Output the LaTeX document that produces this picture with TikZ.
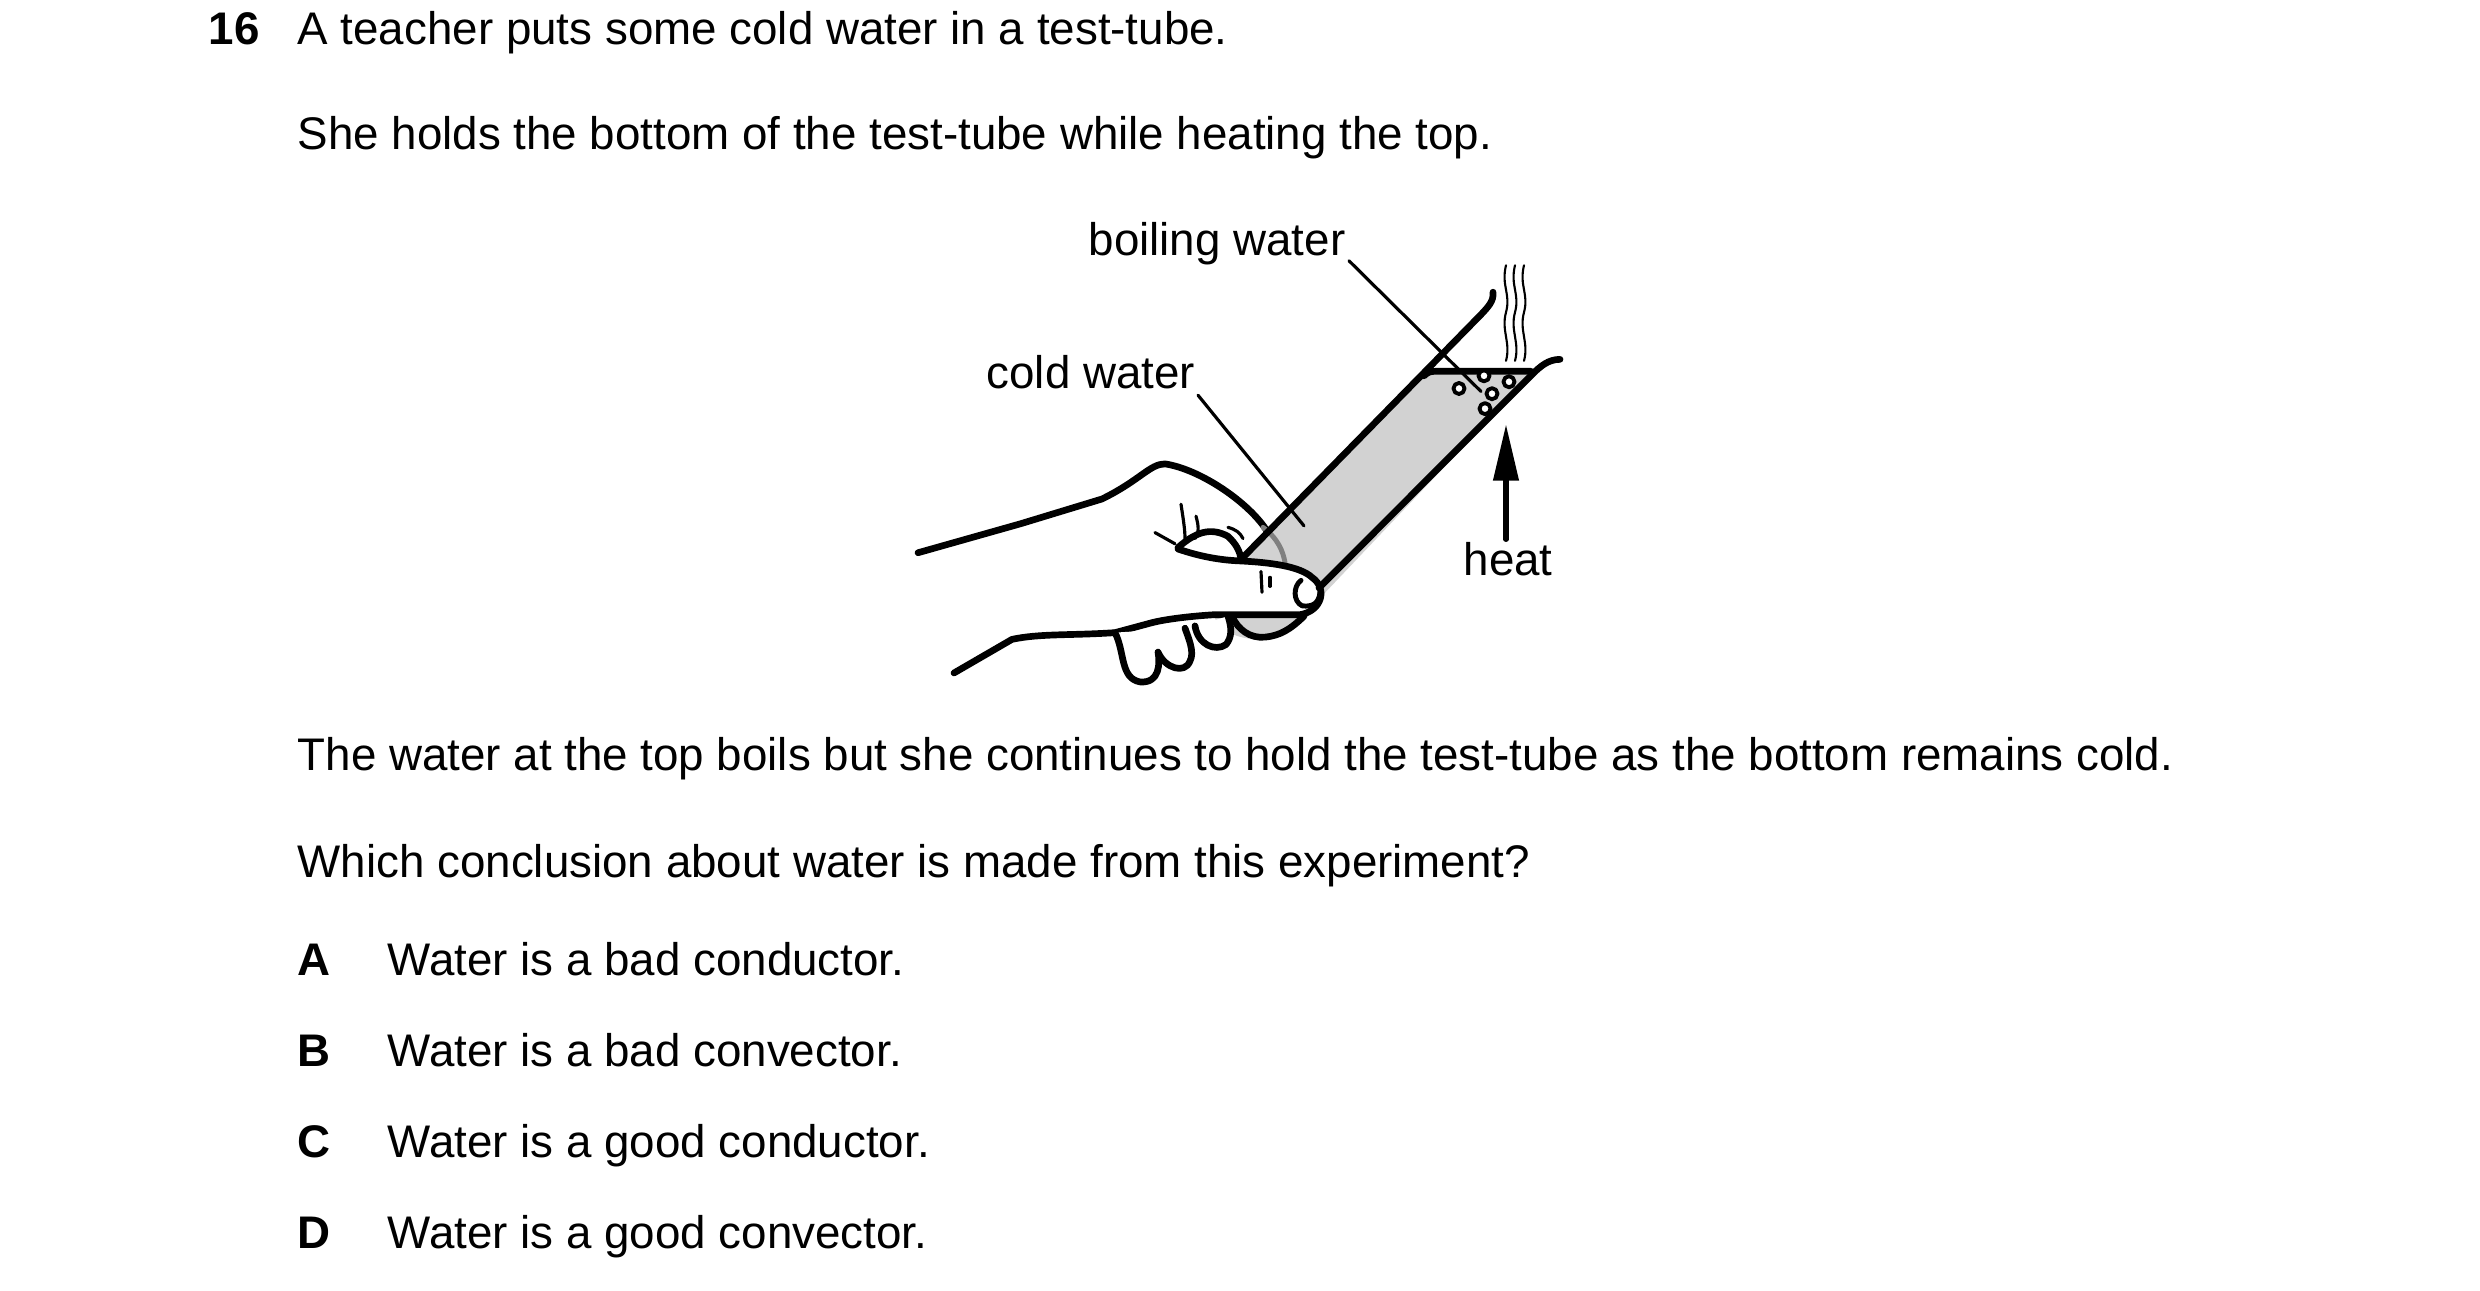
\documentclass[tikz,border=0pt]{standalone}
\usepackage{fontspec}
\setmainfont{Liberation Sans}
\usetikzlibrary{arrows.meta}

\begin{document}
\begin{tikzpicture}[x=0.01cm, y=-0.01cm, line join=round, line cap=round,
    txt/.style={anchor=base west, inner sep=0pt, font=\fontsize{13}{16}\selectfont},
    outline/.style={line width=1.9pt},
    thin line/.style={line width=0.9pt}]
    \useasboundingbox (0,0) rectangle (2480,1291);

    % question text
    \node [txt, font=\fontsize{13}{16}\selectfont\bfseries] (num) at (208,45) {16};
    \node [txt] (l1) at (297,45) {A teacher puts some cold water in a test-tube.};
    \node [txt] (l2) at (297,150) {She holds the bottom of the test-tube while heating the top.};
    \node [txt] (l3) at (297,770) {The water at the top boils but she continues to hold the test-tube as the bottom remains cold.};
    \node [txt] (l4) at (297,877) {Which conclusion about water is made from this experiment?};
    \node [txt, font=\fontsize{13}{16}\selectfont\bfseries] (A) at (297,975) {A};
    \node [txt] (a) at (387,975) {Water is a bad conductor.};
    \node [txt, font=\fontsize{13}{16}\selectfont\bfseries] (B) at (297,1066) {B};
    \node [txt] (b) at (387,1066) {Water is a bad convector.};
    \node [txt, font=\fontsize{13}{16}\selectfont\bfseries] (C) at (297,1157) {C};
    \node [txt] (c) at (387,1157) {Water is a good conductor.};
    \node [txt, font=\fontsize{13}{16}\selectfont\bfseries] (D) at (297,1248) {D};
    \node [txt] (d) at (387,1248) {Water is a good convector.};

    \begin{scope}[shift={(0,54.7)}, yscale=0.7467]
    % test-tube water
    \fill [gray!35] (1429,424) -- (1533,427) -- (1290,770)
        .. controls (1270,792) and (1225,785) .. (1215,755) -- (1241,676) -- cycle;

    % hand
    \fill [white] (918,667) -- (1021,628) -- (1102,595) .. controls (1140,570) and (1150,548) .. (1165,548)
        .. controls (1200,555) and (1250,600) .. (1268,640) -- (1241,676)
        .. controls (1270,680) and (1300,685) .. (1312,700) .. controls (1328,715) and (1322,745) .. (1300,750)
        -- (1214,750) -- (1151,761) -- (1115,774) -- (1012,783) -- (954,828) -- cycle;
    \draw [outline] (918,667) -- (1021,628) -- (1102,595) .. controls (1140,570) and (1150,548) .. (1165,548)
        .. controls (1200,555) and (1250,600) .. (1268,640);
    \draw [gray, line width=1.4pt] (1263,633) .. controls (1278,648) and (1283,665) .. (1285,680);
    \draw [outline] (1178,660) .. controls (1195,640) and (1210,632) .. (1228,645) .. controls (1236,655) and (1240,665) .. (1241,676);
    \draw [outline] (1178,662) .. controls (1200,672) and (1220,677) .. (1241,678)
        .. controls (1270,680) and (1300,685) .. (1312,700) .. controls (1328,715) and (1322,745) .. (1300,750)
        -- (1214,750) .. controls (1190,752) and (1165,756) .. (1151,761) -- (1115,774)
        .. controls (1070,778) and (1040,775) .. (1012,783) -- (954,828);
    \draw [thin line] (1181,602) .. controls (1183,620) and (1185,635) .. (1185,648);
    \draw [thin line] (1196,618) .. controls (1198,628) and (1200,640) .. (1195,648);
    \draw [thin line] (1155,640) -- (1175,655);
    \draw [thin line] (1228,633) .. controls (1236,636) and (1240,640) .. (1243,648);
    \draw [line width=1.4pt] (1301,704) .. controls (1293,712) and (1293,732) .. (1302,738) .. controls (1312,740) and (1319,735) .. (1320,720);
    \draw [thin line] (1261,692) -- (1262,720);
    \draw [thin line] (1270,700) -- (1270,712);
    % curled fingers
    \draw [outline, fill=white] (1115,774) .. controls (1125,800) and (1120,835) .. (1140,840)
        .. controls (1160,842) and (1160,815) .. (1158,800) .. controls (1165,822) and (1185,830) .. (1190,812)
        .. controls (1195,800) and (1188,780) .. (1185,768);
    \draw [outline, fill=white] (1195,765) .. controls (1198,790) and (1215,800) .. (1226,790)
        .. controls (1232,780) and (1232,768) .. (1228,752);
    \draw [outline] (1232,752) .. controls (1238,770) and (1250,782) .. (1265,780)
        .. controls (1280,778) and (1290,770) .. (1304,752);

    % test-tube glass
    \draw [outline] (1241,676) -- (1481,348) .. controls (1488,338) and (1494,330) .. (1493,318);
    \draw [outline] (1319,714) -- (1533,427) .. controls (1540,418) and (1548,408) .. (1560,408);
    \draw [outline] (1424,430) .. controls (1428,425) and (1430,424) .. (1436,424) -- (1531,424);

    % bubbles
    \foreach \bx/\by in {1459/447, 1484/430, 1509/438, 1492/454, 1485/474}
        \draw [line width=1.1pt, fill=white] (\bx,\by) circle [x radius=5.5, y radius=7.4];

    % steam
    \foreach \sx in {1506, 1515, 1524}
        \draw [line width=0.6pt] (\sx,282) .. controls (\sx-5,310) and (\sx+5,320) .. (\sx,345)
            .. controls (\sx-5,370) and (\sx+5,385) .. (\sx,410);

    \coordinate (boilstart) at (1349,276);
    \coordinate (coldstart) at (1198,456);
    \coordinate (boilend) at (1481,451);
    \coordinate (coldend) at (1304,631);
    \coordinate (heatstart) at (1506,649);
    \coordinate (heatend) at (1506,495);
    \end{scope}

    % labels
    \node [txt] (boil) at (1088,256) {boiling water};
    \node [txt] (cold) at (986,389) {cold water};
    \node [txt] (heat) at (1463,576) {heat};
    \draw [thin line] (boilstart) -- (boilend);
    \draw [thin line] (coldstart) -- (coldend);
    \draw [line width=1.5pt, -{Triangle[length=16pt, width=7pt]}] (heatstart) -- (heatend);
\end{tikzpicture}
\end{document}
